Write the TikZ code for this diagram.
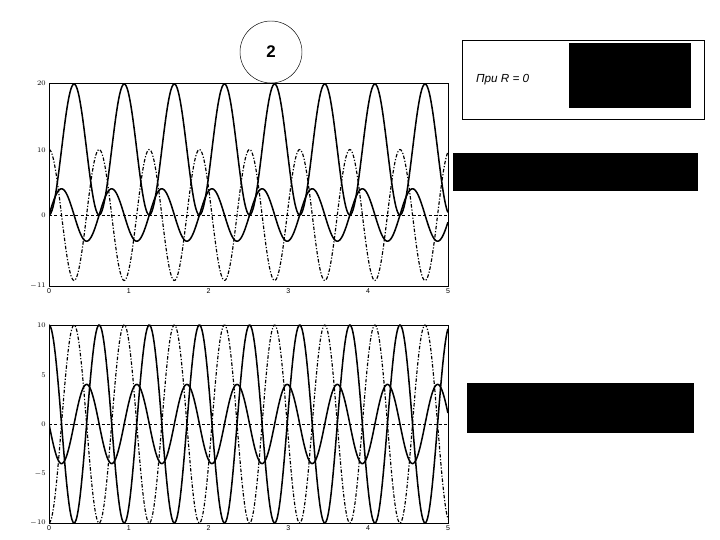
\documentclass[tikz,border=0pt]{standalone}
\usepackage{fontspec}
\setmainfont{Liberation Sans}
\usetikzlibrary{positioning}

\tikzset{
  frame/.style={draw=black,line width=0.5pt},
  big/.style={line width=1.3pt},
  dd/.style={line width=1pt,dash pattern=on 3pt off 1.5pt on 1pt off 1.5pt},
  zero/.style={line width=0.6pt,dash pattern=on 2.5pt off 2pt},
  tick/.style={font=\fontsize{6}{7}\selectfont,inner sep=1pt},
  blk/.style={fill=black,draw=none}
}

\begin{document}
\begin{tikzpicture}[x=0.03cm,y=-0.03cm]
    \useasboundingbox (0,0) rectangle (720,540);
    % number circle
    \node[draw,circle,minimum size=1.86cm,line width=0.4pt,font=\bfseries\Large] (num) at (271,52) {2};
    % top right box
    \draw[frame] (462,40) rectangle (704,119);
    \node[font=\itshape\fontsize{10}{12}\selectfont,anchor=west] (cond) at (472,80) {При $\mathit{R}$ = 0};
    \fill[blk] (569,43) rectangle (691,108);
    \fill[blk] (453,153) rectangle (698,191);
    \fill[blk] (467,383) rectangle (694,433);

    % upper graph
    \draw[frame] (49,83) rectangle (448,286);
    \begin{scope}[shift={(49,215)},x=2.394cm,y=0.1965cm]
        \clip (0,-11) rectangle (5,20);
        \draw[zero] (0,0) -- (5,0);
        \draw[big] plot[domain=0:5,samples=400,smooth] (\x,{10-10*cos(10*\x r)});
        \draw[big] plot[domain=0:5,samples=400,smooth] (\x,{4*sin(10*\x r)});
        \draw[dd] plot[domain=0:5,samples=400,smooth] (\x,{10*cos(10*\x r)});
    \end{scope}
    \foreach \v/\py in {20/83,10/150,0/215,-11/286}
        \node[tick,anchor=east] (ya\v) at (47,\py) {$\v$};
    \foreach \t in {0,...,5}
        \node[tick,anchor=north] (xa\t) at (49+79.8*\t,287) {\t};

    % lower graph
    \draw[frame] (49,325) rectangle (448,523);
    \begin{scope}[shift={(49,424)},x=2.394cm,y=0.297cm]
        \clip (0,-10) rectangle (5,10);
        \draw[zero] (0,0) -- (5,0);
        \draw[big] plot[domain=0:5,samples=400,smooth] (\x,{10*cos(10*\x r)});
        \draw[big] plot[domain=0:5,samples=400,smooth] (\x,{-4*sin(10*\x r)});
        \draw[dd] plot[domain=0:5,samples=400,smooth] (\x,{-10*cos(10*\x r)});
    \end{scope}
    \foreach \v/\py in {10/325,5/375,0/424,-5/474,-10/523}
        \node[tick,anchor=east] (yb\v) at (47,\py) {$\v$};
    \foreach \t in {0,...,5}
        \node[tick,anchor=north] (xb\t) at (49+79.8*\t,524) {\t};
\end{tikzpicture}
\end{document}
